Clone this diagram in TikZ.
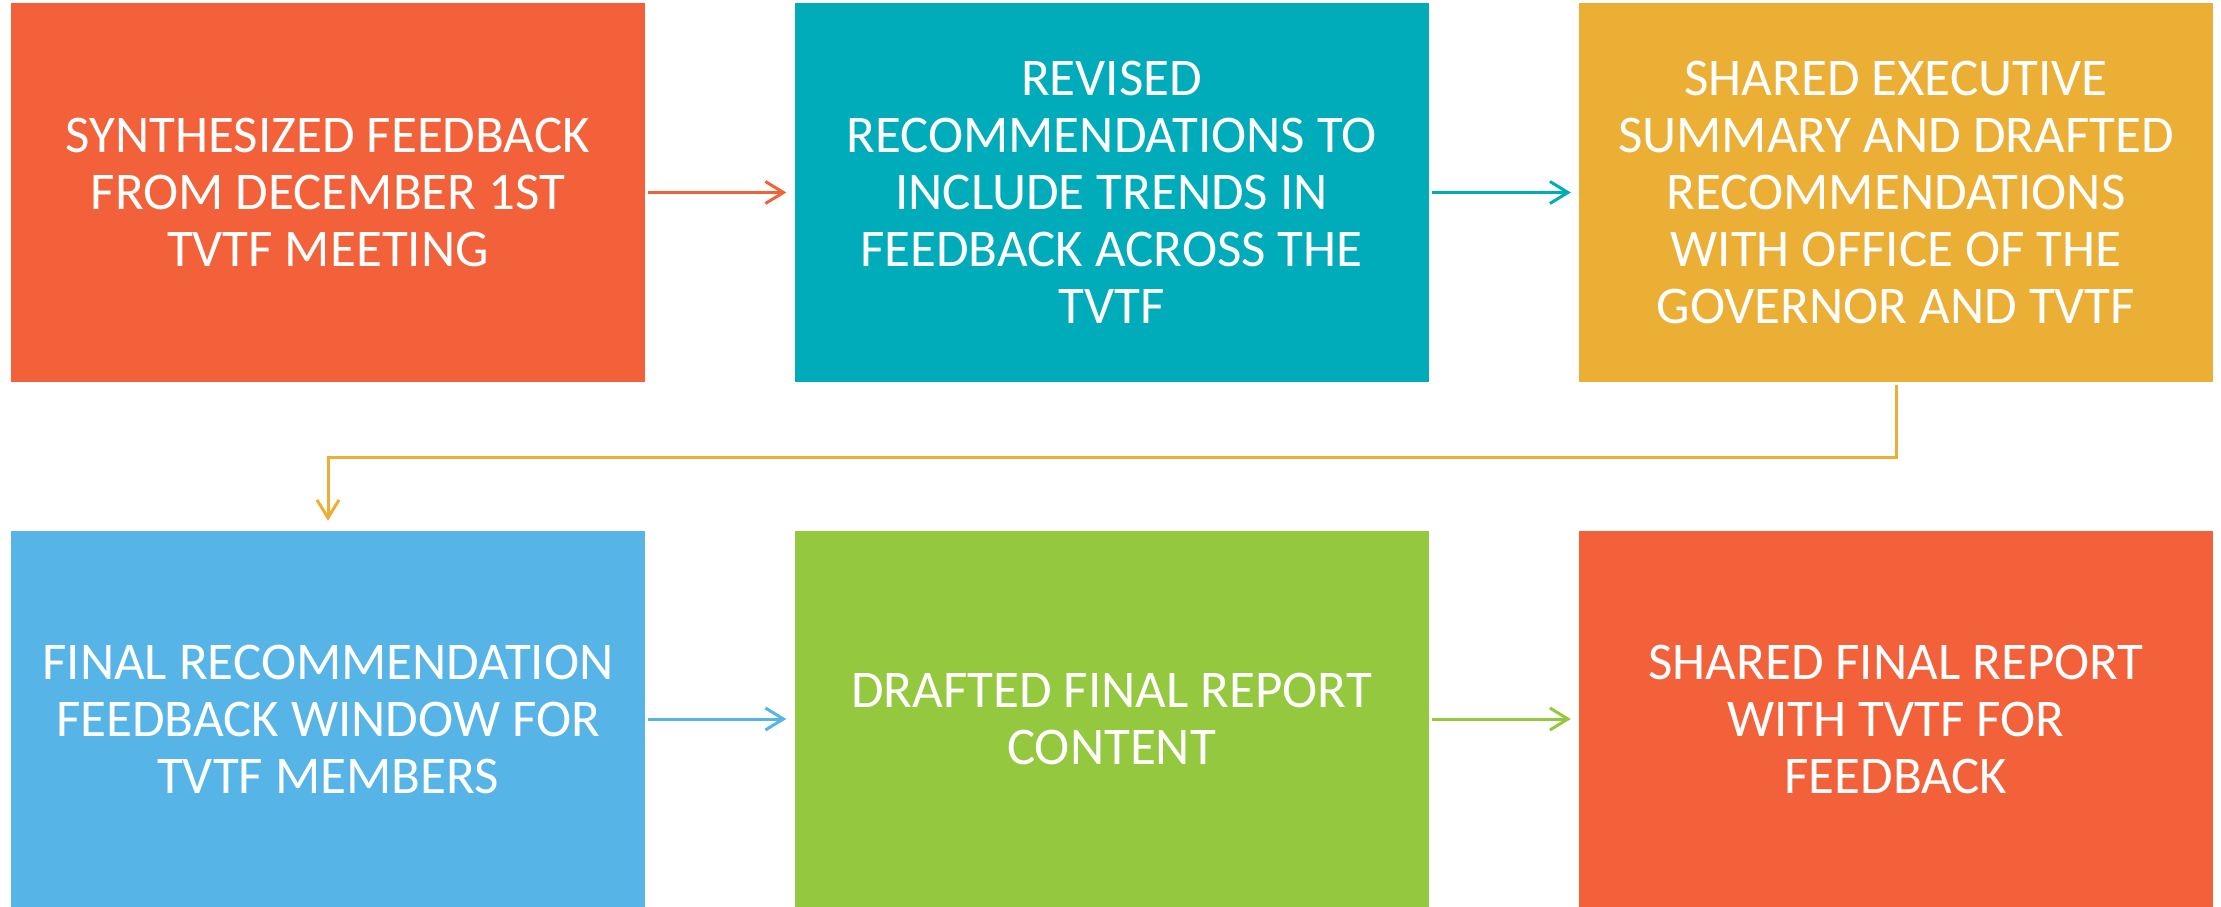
\documentclass[tikz,border=0pt]{standalone}
\usepackage{fontspec}
\setmainfont{Carlito}
\usetikzlibrary{arrows.meta}
\definecolor{cOrange}{HTML}{F26139}
\definecolor{cTeal}{HTML}{00ACB9}
\definecolor{cGold}{HTML}{ECAF35}
\definecolor{cBlue}{HTML}{56B5E6}
\definecolor{cGreen}{HTML}{94C83F}
\tikzset{
  box/.style={rectangle, inner sep=0pt, minimum width=634pt, text=white, align=center,
    font=\fontsize{53}{57}\selectfont},
  rowone/.style={minimum height=379pt},
  rowtwo/.style={minimum height=376pt},
  conn/.style={line width=3pt, -{Straight Barb[length=18pt,width=22pt,line width=3pt]}}
}
\begin{document}
\begin{tikzpicture}[x=1pt,y=1pt]
\useasboundingbox (0,0) rectangle (2221,-907);
\node[box,rowone,fill=cOrange] (b1) at (328,-192.5) {SYNTHESIZED FEEDBACK\\FROM DECEMBER 1ST\\TVTF MEETING};
\node[box,rowone,fill=cTeal] (b2) at (1111.5,-192.5) {REVISED\\RECOMMENDATIONS TO\\INCLUDE TRENDS IN\\FEEDBACK ACROSS THE\\TVTF};
\node[box,rowone,fill=cGold] (b3) at (1896,-192.5) {SHARED EXECUTIVE\\SUMMARY AND DRAFTED\\RECOMMENDATIONS\\WITH OFFICE OF THE\\GOVERNOR AND TVTF};
\node[box,rowtwo,fill=cBlue] (b4) at (328,-719) {FINAL RECOMMENDATION\\FEEDBACK WINDOW FOR\\TVTF MEMBERS};
\node[box,rowtwo,fill=cGreen] (b5) at (1111.5,-719) {DRAFTED FINAL REPORT\\CONTENT};
\node[box,rowtwo,fill=cOrange] (b6) at (1896,-719) {SHARED FINAL REPORT\\WITH TVTF FOR\\FEEDBACK};
\draw[conn,cOrange] ([xshift=3pt]b1.east) -- ([xshift=-8pt]b2.west);
\draw[conn,cTeal] ([xshift=3pt]b2.east) -- ([xshift=-8pt]b3.west);
\draw[conn,cGold] ([yshift=-3pt]b3.south) -- ++(0,-72) -| ([yshift=10pt]b4.north);
\draw[conn,cBlue] ([xshift=3pt]b4.east) -- ([xshift=-8pt]b5.west);
\draw[conn,cGreen] ([xshift=3pt]b5.east) -- ([xshift=-8pt]b6.west);
\end{tikzpicture}
\end{document}
